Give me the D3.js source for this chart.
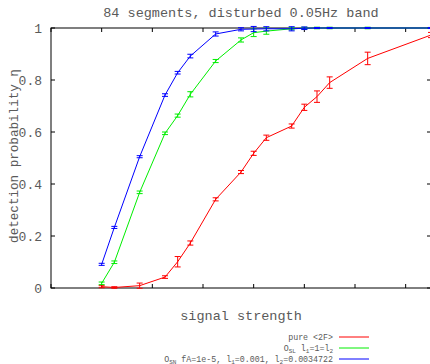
<!DOCTYPE html>
<html><head><meta charset="utf-8">
<script src="https://cdn.jsdelivr.net/npm/d3@7"></script>
<style>body{margin:0;background:#fff}svg{display:block}</style>
</head><body><svg id="c" width="430" height="364"></svg>
<script>
const xs = [0.04,0.05,0.07,0.09,0.10,0.11,0.13,0.15,0.16,0.17,0.19,0.20,0.21,0.22,0.25,0.30];
const redY   = [0.005,0.002,0.009,0.042,0.101,0.173,0.341,0.446,0.518,0.578,0.623,0.695,0.736,0.790,0.883,0.973];
const redE   = [0.004,0.003,0.010,0.005,0.020,0.008,0.006,0.006,0.008,0.010,0.008,0.012,0.022,0.022,0.024,0.010];
const greenY = [0.018,0.099,0.368,0.595,0.663,0.745,0.873,0.954,0.982,0.988,0.997,0.999,1,1,1,1];
const greenE = [0.005,0.005,0.005,0.005,0.006,0.010,0.006,0.008,0.015,0.012,0.004,0.004,0.003,0.003,0.003,0.002];
const blueY  = [0.091,0.233,0.505,0.742,0.828,0.892,0.977,0.995,0.996,0.997,0.997,0.999,1,1,1,1];
const blueE  = [0.004,0.004,0.004,0.005,0.005,0.007,0.008,0.006,0.010,0.008,0.008,0.005,0.002,0.002,0.002,0.002];
const yTicks = [0,0.2,0.4,0.6,0.8,1];
const yTickLabels = ["0","0.2","0.4","0.6","0.8","1"];
const xTicks = [0,0.04,0.08,0.12,0.16,0.20,0.24,0.28];
const titleText = "84 segments, disturbed 0.05Hz band";
const xLabel = "signal strength";
const yLabel = "detection probability η";

const svg = d3.select("#c");
const L=51, R=431, T=28, B=288;
const x = d3.scaleLinear().domain([0,0.3]).range([L,R]);
const y = d3.scaleLinear().domain([0,1]).range([B,T]);
const font = "'Liberation Mono', 'DejaVu Sans Mono', monospace";
const txt = "#5a5a5a";

// frame
svg.append("rect").attr("x",L).attr("y",T).attr("width",R-L).attr("height",B-T)
  .attr("fill","none").attr("stroke","#000").attr("stroke-width",1);

// ticks
const g = svg.append("g").attr("stroke","#000").attr("stroke-width",1);
xTicks.forEach(t=>{
  g.append("line").attr("x1",x(t)).attr("x2",x(t)).attr("y1",B).attr("y2",B-4);
  g.append("line").attr("x1",x(t)).attr("x2",x(t)).attr("y1",T).attr("y2",T+4);
});
yTicks.forEach(t=>{
  g.append("line").attr("x1",L).attr("x2",L+4).attr("y1",y(t)).attr("y2",y(t));
  g.append("line").attr("x1",R).attr("x2",R-4).attr("y1",y(t)).attr("y2",y(t));
});
yTicks.forEach((t,i)=>{
  svg.append("text").attr("x",42).attr("y",y(t)).attr("dy","0.35em")
    .attr("text-anchor","end").attr("font-family",font).attr("font-size",13)
    .attr("fill",txt).text(yTickLabels[i]);
});

// title & labels
svg.append("text").attr("x",241).attr("y",17).attr("text-anchor","middle")
  .attr("font-family",font).attr("font-size",13.5).attr("fill",txt).text(titleText);
svg.append("text").attr("x",241).attr("y",320).attr("text-anchor","middle")
  .attr("font-family",font).attr("font-size",13.5).attr("fill",txt).text(xLabel);
svg.append("text").attr("transform","translate(14,156) rotate(-90)").attr("dy","0.35em")
  .attr("text-anchor","middle").attr("font-family",font).attr("font-size",12.6)
  .attr("fill",txt).text(yLabel);

// series
const series = [
  {ys:redY, es:redE, color:"#ff0000"},
  {ys:greenY, es:greenE, color:"#00ee00"},
  {ys:blueY, es:blueE, color:"#0000ff"}
];
const line = d3.line().x(d=>x(d[0])).y(d=>y(d[1]));
series.forEach(s=>{
  const pts = xs.map((v,i)=>[v,s.ys[i],s.es[i]]);
  const sg = svg.append("g");
  sg.append("path").attr("d",line(pts)).attr("fill","none").attr("stroke",s.color).attr("stroke-width",1);
  pts.forEach(p=>{
    const px=x(p[0]), y0=y(p[1]-p[2]), ytop=y(p[1]+p[2]);
    sg.append("line").attr("x1",px).attr("x2",px).attr("y1",ytop).attr("y2",y0).attr("stroke",s.color);
    sg.append("line").attr("x1",px-3).attr("x2",px+3).attr("y1",ytop).attr("y2",ytop).attr("stroke",s.color);
    sg.append("line").attr("x1",px-3).attr("x2",px+3).attr("y1",y0).attr("y2",y0).attr("stroke",s.color);
  });
});

// legend
const lg = [
  {color:"#ff0000", parts:[["pure <2F>",0]]},
  {color:"#00ee00", parts:[["O",0],["SL",1],[" l",0],["1",1],["=1=l",0],["2",1]]},
  {color:"#0000ff", parts:[["O",0],["SN",1],[" fA=1e-5, l",0],["1",1],["=0.001, l",0],["2",1],["=0.0034722",0]]}
];
const rowY=[337,348,359];
lg.forEach((e,i)=>{
  const t = svg.append("text").attr("x",333).attr("y",rowY[i]).attr("dy","0.35em")
    .attr("text-anchor","end").attr("font-family",font).attr("font-size",8.3).attr("fill",txt);
  e.parts.forEach(p=>{
    const ts = t.append("tspan").text(p[0]);
    if(p[1]) ts.attr("font-size",6).attr("baseline-shift","-25%");
  });
  svg.append("line").attr("x1",339).attr("x2",369).attr("y1",rowY[i]).attr("y2",rowY[i])
    .attr("stroke",e.color).attr("stroke-width",1);
});
</script></body></html>
